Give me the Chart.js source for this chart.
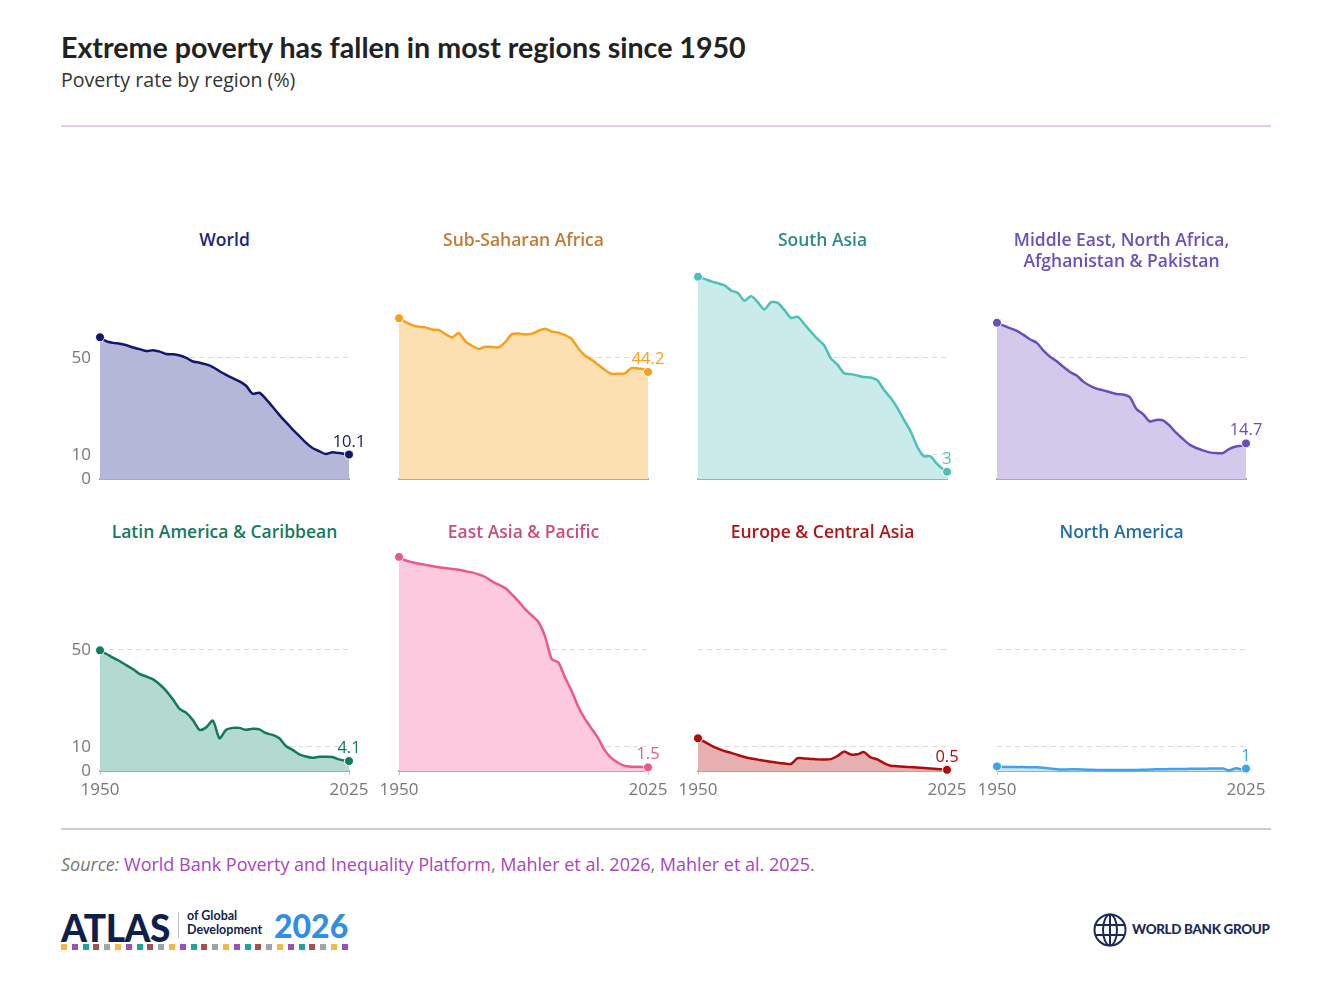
<!DOCTYPE html>
<html>
<head>
<meta charset="utf-8">
<script src="https://cdn.jsdelivr.net/npm/chart.js@4.4.1/dist/chart.umd.min.js"></script>
<style>
body { margin: 0; background: #fff; }
#page { position: relative; width: 1333px; height: 994px; overflow: hidden; font-family: "Open Sans", sans-serif; }
.abs { position: absolute; }
#title { left: 61px; top: 30px; font-family: Lato, sans-serif; font-weight: 700; font-size: 28.6px; color: #222; white-space: nowrap; }
#subtitle { left: 61px; top: 66px; font-size: 19.6px; color: #333; white-space: nowrap; }
#rule1 { left: 61px; top: 125px; width: 1210px; height: 2px; background: #e4c9ee; }
#rule2 { left: 61px; top: 828px; width: 1210px; height: 2px; background: #c9ced3; }
#source { left: 61px; top: 852px; font-size: 18px; color: #777; white-space: nowrap; }
#source i { color: #777; }
#source span { color: #a944c0; }
.ptitle { width: 300px; text-align: center; font-size: 17.5px; font-weight: 600; line-height: 21px; }
canvas { position: absolute; }
#atlas { left: 61px; top: 905px; font-family: Lato, sans-serif; font-weight: 900; font-size: 37px; color: #0f1f4b; letter-spacing: -0.5px; }
#atlasbar { left: 178px; top: 912px; width: 1px; height: 26px; background: #b8bcc6; }
#atlassub { left: 187px; top: 909px; font-family: Lato, sans-serif; font-weight: 700; font-size: 12.5px; line-height: 14px; color: #0f1f4b; }
#atlasyear { left: 274px; top: 906px; font-family: Lato, sans-serif; font-weight: 900; font-size: 32px; color: #2f8fe6; }
#squares { left: 61px; top: 944px; white-space: nowrap; font-size: 0; }
#squares b { display: inline-block; width: 6px; height: 6px; margin-right: 4.8px; }
#wbg { left: 1093px; top: 913px; }
#wbgtext { left: 1132px; top: 921px; font-family: Lato, sans-serif; font-weight: 900; font-size: 13.4px; color: #1a2a5a; letter-spacing: -0.3px; white-space: nowrap; }
</style>
</head>
<body>
<div id="page">
  <div id="title" class="abs">Extreme poverty has fallen in most regions since 1950</div>
  <div id="subtitle" class="abs">Poverty rate by region (%)</div>
  <div id="rule1" class="abs"></div>
  <div id="rule2" class="abs"></div>
  <div id="source" class="abs"><i>Source:</i> <span>World Bank Poverty and Inequality Platform</span>, <span>Mahler et al. 2026</span>, <span>Mahler et al. 2025</span>.</div>
  <div id="atlas" class="abs">ATLAS</div>
  <div id="atlasbar" class="abs"></div>
  <div id="atlassub" class="abs">of Global<br>Development</div>
  <div id="atlasyear" class="abs">2026</div>
  <div id="squares" class="abs"></div>
  <svg id="wbg" class="abs" width="34" height="34" viewBox="0 0 34 34">
    <g fill="none" stroke="#1a2a5a" stroke-width="2">
      <circle cx="17" cy="17" r="15.5"/>
      <ellipse cx="17" cy="17" rx="7" ry="15.5"/>
      <path d="M2 12 H32 M2 22 H32 M17 1.5 V32.5"/>
    </g>
  </svg>
  <div id="wbgtext" class="abs">WORLD BANK GROUP</div>
</div>

<script>
// poverty rate (%) by region
var years = [1950, 1952, 1954, 1956, 1958, 1960, 1962, 1964, 1966, 1968,
             1970, 1972, 1974, 1976, 1978, 1980, 1982, 1984, 1986, 1988,
             1990, 1992, 1994, 1996, 1998, 2000, 2002, 2004, 2006, 2008,
             2010, 2012, 2014, 2016, 2018, 2020, 2022, 2024, 2025];

var regions = ["World", "Sub-Saharan Africa", "South Asia", "Middle East, North Africa,<br>Afghanistan &amp; Pakistan",
               "Latin America &amp; Caribbean", "East Asia &amp; Pacific", "Europe &amp; Central Asia", "North America"];

var world = [58.5, 56.8, 56.2, 55.8, 55.2, 54.3, 53.6, 52.8, 53.2, 52.6,
             51.6, 51.5, 51.0, 50.0, 48.5, 48.0, 47.3, 46.2, 44.5, 43.0,
             41.6, 40.3, 38.5, 35.2, 35.6, 33.0, 29.8, 26.5, 23.5, 20.5,
             17.8, 15.0, 12.8, 11.5, 10.3, 11.0, 10.7, 10.3, 10.1];

var subSaharanAfrica = [66.4, 64.8, 63.5, 62.9, 62.6, 61.7, 61.5, 59.8, 58.5, 60.3,
                        56.8, 55.0, 53.7, 54.6, 54.5, 54.4, 56.5, 59.8, 60.1, 59.7,
                        60.0, 61.2, 62.0, 60.9, 60.4, 59.4, 57.8, 54.0, 51.0, 49.2,
                        47.2, 45.0, 43.4, 43.5, 43.6, 45.8, 45.6, 45.3, 44.2];

var southAsia = [83.5, 82.6, 81.6, 80.8, 79.9, 77.8, 76.8, 73.6, 75.5, 73.0,
                 70.0, 73.0, 72.7, 69.8, 66.5, 67.0, 64.0, 60.8, 57.8, 55.2,
                 49.8, 47.2, 43.7, 43.3, 42.7, 42.1, 41.9, 40.8, 36.8, 33.5,
                 29.5, 24.5, 19.8, 13.5, 9.4, 9.4, 6.2, 3.8, 3];

var menaAP = [64.5, 63.3, 62.2, 61.2, 59.5, 57.6, 56.2, 53.0, 50.5, 48.6,
              46.3, 44.2, 42.7, 40.2, 38.5, 37.3, 36.6, 35.8, 35.1, 34.9,
              33.8, 28.9, 26.8, 23.8, 24.4, 24.2, 22.0, 19.0, 16.5, 14.2,
              12.8, 11.8, 11.0, 10.7, 10.7, 12.4, 13.4, 13.8, 14.7];

var latinAmerica = [49.8, 48.3, 46.7, 45.3, 43.6, 42.0, 40.0, 39.0, 37.8, 35.7,
                    33.0, 29.5, 25.6, 24.0, 21.0, 17.0, 18.0, 20.8, 13.5, 17.0,
                    17.8, 17.8, 17.0, 17.4, 17.2, 15.6, 14.9, 13.5, 10.3, 8.7,
                    6.9, 6.0, 5.5, 5.9, 5.9, 5.8, 4.8, 4.2, 4.1];

var eastAsia = [88.4, 86.9, 86.2, 85.6, 85.1, 84.6, 84.1, 83.8, 83.4, 83.1,
                82.5, 82.0, 81.2, 80.1, 78.3, 76.9, 75.5, 72.9, 70.0, 66.8,
                64.2, 61.5, 55.5, 46.2, 44.8, 38.6, 33.0, 26.5, 21.5, 17.5,
                13.5, 8.5, 5.3, 3.4, 2.1, 1.8, 1.8, 1.6, 1.5];

var europeCentralAsia = [13.5, 12.0, 10.5, 9.2, 8.2, 7.5, 6.6, 5.8, 5.2, 4.7,
                         4.2, 3.8, 3.4, 3.1, 2.9, 5.3, 5.2, 5.0, 4.8, 4.7,
                         4.9, 6.2, 8.0, 6.8, 6.9, 7.8, 5.6, 4.8, 3.3, 2.2,
                         2.0, 1.8, 1.6, 1.4, 1.2, 1.0, 0.8, 0.6, 0.5];

var northAmerica = [1.9, 1.7, 1.7, 1.6, 1.6, 1.5, 1.5, 1.3, 1.0, 0.7,
                    0.6, 0.7, 0.7, 0.6, 0.5, 0.4, 0.4, 0.4, 0.4, 0.4,
                    0.4, 0.4, 0.5, 0.6, 0.7, 0.7, 0.8, 0.8, 0.8, 0.9,
                    0.9, 0.9, 1.0, 1.0, 1.0, 0.3, 1.1, 0.6, 1];

var yTicks = [0, 10, 50];
var xTicks = [1950, 2025];

var series = [world, subSaharanAfrica, southAsia, menaAP, latinAmerica, eastAsia, europeCentralAsia, northAmerica];

// colours: line, fill, title
var lineColors  = ["#10186e", "#f7a11a", "#4cc0b8", "#6b4cbc", "#0f7a5c", "#e95a8c", "#b10a0a", "#3da3ea"];
var fillColors  = ["#b5b7d9", "#fde0b1", "#c9eceb", "#d3c9ea", "#b4dad0", "#fdc9dc", "#e7b0b0", "#cfe6f8"];
var titleColors = ["#1b2482", "#c27a32", "#2a8c88", "#6b4fbb", "#157a5d", "#c94d7c", "#b01515", "#1f6ea5"];

// squares under the atlas logo
var sq = document.getElementById("squares");
var sqColors = ["#f4b942", "#9c50b6", "#1fa39a", "#a4504f", "#9ea4aa"];
for (var s = 0; s < 27; s++) {
    var b = document.createElement("b");
    b.style.background = sqColors[s % 5];
    sq.appendChild(b);
}

Chart.defaults.font.family = '"Open Sans", sans-serif';
Chart.defaults.animation = false;

var endLabel = {
    id: "endLabel",
    afterDatasetsDraw: function(chart) {
        var meta = chart.getDatasetMeta(0);
        var last = meta.data.length - 1;
        var pt = meta.data[last];
        var ds = chart.data.datasets[0];
        var ctx = chart.ctx;
        ctx.save();
        ctx.font = '16.5px "Open Sans", sans-serif';
        ctx.fillStyle = ds.borderColor;
        ctx.textAlign = "center";
        ctx.textBaseline = "alphabetic";
        ctx.fillText(String(ds.data[last].y), pt.x, pt.y - 8);
        ctx.restore();
    }
};

var page = document.getElementById("page");
var YW = 45, PT = 20, PR = 35, XB = 30, PW = 249, PH = 218;

series.forEach(function(values, i) {
    var col = i % 4, row = Math.floor(i / 4);
    var plotLeft = 100 + 299 * col;
    var zeroY = 479 + 292 * row;

    var t = document.createElement("div");
    t.className = "abs ptitle";
    t.style.left = (plotLeft + PW / 2 - 150) + "px";
    t.style.top = (row === 0 ? 229 : 521) + "px";
    t.style.color = titleColors[i];
    t.innerHTML = regions[i];
    page.appendChild(t);

    var cv = document.createElement("canvas");
    cv.width = YW + PW + PR;
    cv.height = PT + PH + XB;
    cv.style.left = (plotLeft - YW) + "px";
    cv.style.top = (zeroY - PH - PT) + "px";
    page.appendChild(cv);

    var n = values.length;
    new Chart(cv.getContext("2d"), {
        type: "line",
        data: {
            datasets: [{
                data: years.map(function(y, k) { return { x: y, y: values[k] }; }),
                borderColor: lineColors[i],
                backgroundColor: fillColors[i],
                borderWidth: 2.5,
                fill: "origin",
                tension: 0.25,
                clip: false,
                pointRadius: function(c) { return (c.dataIndex === 0 || c.dataIndex === n - 1) ? 4.5 : 0; },
                pointBackgroundColor: lineColors[i],
                pointBorderColor: "#fff",
                pointBorderWidth: 1
            }]
        },
        options: {
            responsive: false,
            layout: { padding: { top: PT, right: PR, left: 0, bottom: 0 } },
            plugins: { legend: { display: false }, tooltip: { enabled: false } },
            scales: {
                x: {
                    type: "linear",
                    min: 1950,
                    max: 2025,
                    afterBuildTicks: function(scale) { scale.ticks = xTicks.map(function(v) { return { value: v }; }); },
                    afterFit: function(scale) { scale.height = XB; },
                    grid: { drawOnChartArea: false, drawTicks: row === 1, tickLength: 4, color: "#c8c8c8" },
                    border: { display: true, color: "#a9a9ae", width: 2 },
                    ticks: {
                        display: row === 1,
                        color: "#777",
                        font: { size: 17 },
                        padding: 5,
                        maxRotation: 0,
                        callback: function(v) { return String(v); }
                    }
                },
                y: {
                    min: 0,
                    max: 90,
                    afterBuildTicks: function(scale) { scale.ticks = yTicks.map(function(v) { return { value: v }; }); },
                    afterFit: function(scale) { scale.width = YW; },
                    grid: {
                        drawTicks: false,
                        color: function(c) { return c.tick && c.tick.value > 0 ? "#d9d9dd" : "rgba(0,0,0,0)"; },
                        lineWidth: 1
                    },
                    border: { display: false, dash: [5, 4] },
                    ticks: {
                        display: col === 0,
                        color: "#777",
                        font: { size: 17 },
                        padding: 9,
                        callback: function(v) { return String(v); }
                    }
                }
            }
        },
        plugins: [endLabel]
    });
});
</script>
</body>
</html>
